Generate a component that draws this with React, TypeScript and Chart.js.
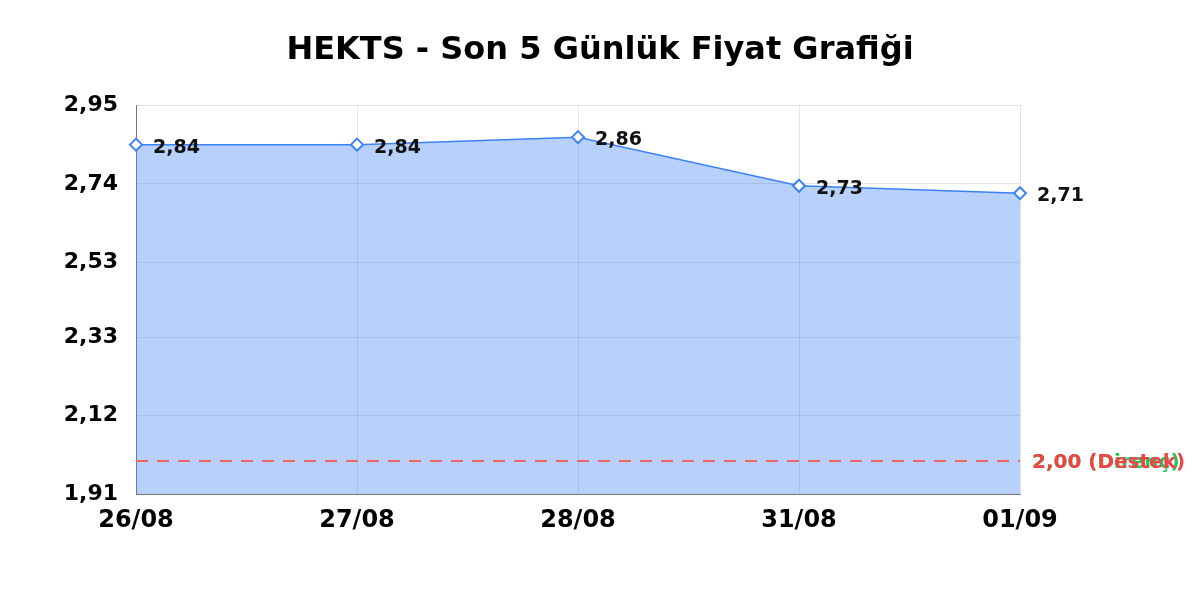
import { useEffect, useRef } from 'react';
import { Chart, registerables, Plugin } from 'chart.js';

Chart.register(...registerables);

const dates = ['26/08', '27/08', '28/08', '31/08', '01/09'];
const prices = [2.845, 2.845, 2.865, 2.735, 2.715];
const priceLabels = ['2,84', '2,84', '2,86', '2,73', '2,71'];
const yTicks = [1.91, 2.12, 2.33, 2.53, 2.74, 2.95];
const refLevels = [2.0, 2.0];
const refNames = ['Direnç', 'Destek'];
const refColors = ['#22c55e', '#ef4444'];
const refLineColors = ['#4ccf7c', '#f26464'];

const FONT = "'DejaVu Sans', sans-serif";

const fmt = (v: number) => v.toFixed(2).replace('.', ',');

const overlayPlugin: Plugin<'line'> = {
  id: 'overlay',
  afterDatasetsDraw(chart) {
    const { ctx, chartArea, scales } = chart;
    const y = scales.y;
    ctx.save();
    // reference lines: resistance first, support drawn on top
    refLevels.forEach((lvl, i) => {
      const py = Math.round(y.getPixelForValue(lvl)) + 1;
      ctx.strokeStyle = refLineColors[i];
      ctx.lineWidth = 2;
      ctx.setLineDash([12, 9]);
      ctx.beginPath();
      ctx.moveTo(chartArea.left, py);
      ctx.lineTo(chartArea.right, py);
      ctx.stroke();
      ctx.setLineDash([]);
      ctx.fillStyle = refColors[i];
      ctx.font = `bold 20px ${FONT}`;
      ctx.textAlign = 'left';
      ctx.textBaseline = 'middle';
      ctx.fillText(`${fmt(lvl)} (${refNames[i]})`, chartArea.right + 12, py + 2);
    });
    // value labels beside points
    const meta = chart.getDatasetMeta(0);
    ctx.fillStyle = '#111';
    ctx.font = `bold 19px ${FONT}`;
    ctx.textAlign = 'left';
    ctx.textBaseline = 'middle';
    meta.data.forEach((pt, i) => {
      ctx.fillText(priceLabels[i], pt.x + 17, pt.y + 3);
    });
    ctx.restore();
  },
};

export default function App() {
  const canvasRef = useRef<HTMLCanvasElement>(null);

  useEffect(() => {
    if (!canvasRef.current) return;
    const chart = new Chart(canvasRef.current, {
      type: 'line',
      data: {
        labels: dates,
        datasets: [
          {
            label: 'HEKTS',
            data: prices,
            borderColor: '#3b82f6',
            backgroundColor: 'rgba(59, 130, 246, 0.37)',
            borderWidth: 1.5,
            fill: 'start',
            tension: 0,
            pointStyle: 'rectRot',
            pointRadius: 6,
            pointBorderWidth: 2,
            pointBackgroundColor: '#ffffff',
            pointBorderColor: '#3b82f6',
          },
        ],
      },
      options: {
        responsive: false,
        devicePixelRatio: 1,
        animation: false,
        layout: { padding: 0 },
        plugins: {
          legend: { display: false },
          tooltip: { enabled: false },
          title: {
            display: true,
            text: 'HEKTS - Son 5 Günlük Fiyat Grafiği',
            color: '#000',
            font: { family: FONT, size: 32, weight: 'bold' },
            padding: { top: 31, bottom: 36 },
          },
        },
        scales: {
          x: {
            offset: false,
            grid: { color: 'rgba(0,0,0,0.11)', drawTicks: false },
            border: { color: '#777', width: 1 },
            ticks: {
              color: '#000',
              padding: 12,
              maxRotation: 0,
              font: { family: FONT, size: 24, weight: 'bold' },
            },
            afterFit(scale) {
              scale.height = 106;
            },
          },
          y: {
            min: yTicks[0],
            max: yTicks[yTicks.length - 1],
            grid: { color: 'rgba(0,0,0,0.11)', drawTicks: false },
            border: { color: '#777', width: 1 },
            afterBuildTicks(scale) {
              scale.ticks = yTicks.map((v) => ({ value: v }));
            },
            ticks: {
              color: '#000',
              padding: 18,
              font: { family: FONT, size: 22, weight: 'bold' },
              callback: (v) => fmt(Number(v)),
            },
            afterFit(scale) {
              scale.width = 136;
            },
          },
          yRight: {
            position: 'right',
            min: yTicks[0],
            max: yTicks[yTicks.length - 1],
            grid: { display: false, drawTicks: false },
            border: { display: false },
            ticks: { display: false },
            afterFit(scale) {
              scale.width = 180;
            },
          },
        },
      },
      plugins: [overlayPlugin],
    });
    return () => chart.destroy();
  }, []);

  return (
    <div style={{ position: 'fixed', left: 0, top: 0, width: 1200, height: 600, background: '#fff' }}>
      <canvas ref={canvasRef} width={1200} height={600} style={{ display: 'block' }} />
    </div>
  );
}
